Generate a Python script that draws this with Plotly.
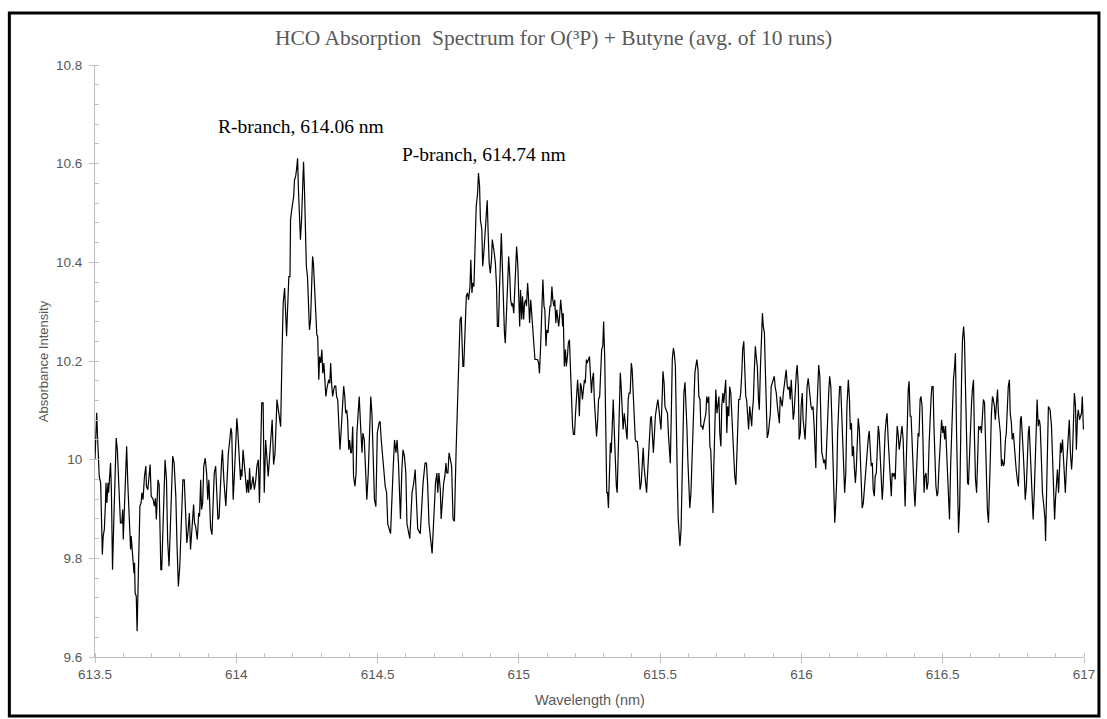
import plotly.graph_objects as go

# HCO absorption spectrum, O(3P) + butyne, averaged over 10 runs
wavelength_nm = [
    613.500, 613.506, 613.509, 613.515, 613.520, 613.526, 613.529, 613.533, 613.537, 613.539,
    613.542, 613.546, 613.548, 613.552, 613.555, 613.558, 613.562, 613.567, 613.572, 613.575,
    613.579, 613.584, 613.590, 613.595, 613.598, 613.600, 613.605, 613.612, 613.616, 613.621,
    613.626, 613.628, 613.632, 613.635, 613.638, 613.640, 613.642, 613.646, 613.649, 613.654,
    613.659, 613.663, 613.666, 613.670, 613.675, 613.680, 613.682, 613.687, 613.692, 613.695,
    613.699, 613.706, 613.710, 613.714, 613.717, 613.723, 613.727, 613.729, 613.733, 613.736,
    613.741, 613.748, 613.753, 613.757, 613.762, 613.767, 613.775, 613.780, 613.786, 613.790,
    613.795, 613.800, 613.806, 613.811, 613.816,
    613.821, 613.825, 613.829, 613.834, 613.838, 613.843, 613.849, 613.852, 613.856, 613.862,
    613.867, 613.870, 613.874, 613.877, 613.881, 613.885, 613.890, 613.895, 613.899, 613.903,
    613.907, 613.909, 613.914, 613.918, 613.922, 613.927, 613.930, 613.935, 613.939, 613.944,
    613.948, 613.951, 613.956, 613.963, 613.968, 613.972, 613.977, 613.981, 613.984, 613.989,
    613.993, 613.998, 614.002, 614.005, 614.010, 614.015, 614.017, 614.020, 614.024, 614.029,
    614.033, 614.037, 614.040, 614.044, 614.047, 614.051, 614.056, 614.059, 614.064, 614.069,
    614.073, 614.078, 614.082, 614.085, 614.090, 614.095, 614.099, 614.104, 614.107, 614.113,
    614.118, 614.123, 614.127, 614.132, 614.137, 614.144, 614.149,
    614.157, 614.162, 614.166, 614.171, 614.174, 614.178, 614.181, 614.186, 614.190, 614.192,
    614.196, 614.199, 614.203, 614.206, 614.210, 614.213, 614.217, 614.220, 614.224, 614.227,
    614.231, 614.234, 614.238, 614.241, 614.245, 614.248, 614.252, 614.256, 614.259, 614.263,
    614.266, 614.270, 614.273, 614.277, 614.281, 614.285, 614.288, 614.292, 614.295, 614.299,
    614.303, 614.306, 614.310, 614.313, 614.317, 614.320, 614.324, 614.327, 614.331, 614.334,
    614.338, 614.341, 614.345, 614.348, 614.352, 614.355, 614.359, 614.362, 614.367, 614.372,
    614.377, 614.380, 614.384, 614.387, 614.391, 614.394, 614.398, 614.401, 614.405, 614.408,
    614.412, 614.415, 614.420, 614.424, 614.427, 614.432, 614.435, 614.440, 614.445, 614.448,
    614.453, 614.458, 614.462, 614.467, 614.472, 614.476, 614.480, 614.485, 614.489, 614.494,
    614.499, 614.505, 614.509, 614.513, 614.518, 614.522, 614.527, 614.532, 614.536, 614.546,
    614.555, 614.560, 614.565, 614.569, 614.574, 614.579, 614.581, 614.586, 614.590, 614.595,
    614.600, 614.604, 614.614, 614.622, 614.628, 614.633, 614.637, 614.642, 614.651, 614.661,
    614.668, 614.673, 614.677, 614.682, 614.693, 614.701, 614.705, 614.710, 614.713, 614.717,
    614.722, 614.725, 614.729, 614.734, 614.738, 614.742, 614.745, 614.749, 614.753, 614.757,
    614.762, 614.767, 614.772, 614.778, 614.783, 614.788, 614.792, 614.796, 614.799, 614.802,
    614.805, 614.809, 614.814, 614.818,
    614.822, 614.827, 614.830, 614.834, 614.837, 614.841, 614.845, 614.849, 614.854, 614.857,
    614.861, 614.864, 614.869, 614.872, 614.876, 614.879, 614.884, 614.888, 614.891, 614.895,
    614.899, 614.903, 614.906, 614.910, 614.913, 614.917, 614.921, 614.924, 614.928, 614.931,
    614.935, 614.938, 614.942, 614.945, 614.949, 614.952, 614.956, 614.961, 614.964, 614.968,
    614.971, 614.975, 614.978, 614.982, 614.985, 614.989, 614.992, 614.996, 615.000, 615.003,
    615.006, 615.010, 615.013, 615.017, 615.020, 615.024, 615.027, 615.031, 615.034, 615.038,
    615.042, 615.045, 615.049, 615.052, 615.057, 615.062, 615.066, 615.070, 615.073, 615.077,
    615.080, 615.085, 615.089, 615.092, 615.096, 615.099, 615.103, 615.106, 615.110, 615.113,
    615.117, 615.120, 615.124, 615.127, 615.131, 615.134, 615.138, 615.141, 615.145, 615.148,
    615.152, 615.155,
    615.157, 615.161, 615.165, 615.168, 615.172, 615.175, 615.179, 615.183, 615.186, 615.190,
    615.193, 615.197, 615.200, 615.205, 615.208, 615.212, 615.214, 615.218, 615.221, 615.225,
    615.228, 615.232, 615.235, 615.239, 615.242, 615.246, 615.250, 615.253, 615.257, 615.260,
    615.264, 615.267, 615.271, 615.275, 615.279, 615.282, 615.286, 615.289, 615.293, 615.297,
    615.300, 615.304, 615.307, 615.311, 615.314, 615.317, 615.320, 615.324, 615.327, 615.331,
    615.334, 615.338, 615.341, 615.345, 615.348, 615.352, 615.355, 615.359, 615.362, 615.366,
    615.369, 615.373, 615.376, 615.380, 615.383, 615.387, 615.390, 615.394, 615.398, 615.401,
    615.405, 615.408, 615.412, 615.415, 615.419, 615.422, 615.426, 615.429, 615.433, 615.436,
    615.440, 615.443, 615.447, 615.452, 615.455, 615.459, 615.462, 615.466, 615.469, 615.473,
    615.476, 615.480, 615.483, 615.488,
    615.492, 615.496, 615.500, 615.503, 615.507, 615.510, 615.514, 615.517, 615.521, 615.526,
    615.529, 615.533, 615.536, 615.540, 615.543, 615.547, 615.550, 615.554, 615.557, 615.561,
    615.564, 615.568, 615.570, 615.574, 615.577, 615.581, 615.584, 615.588, 615.591, 615.595,
    615.598, 615.602, 615.605, 615.609, 615.613, 615.616, 615.620, 615.623, 615.627, 615.630,
    615.634, 615.637, 615.641, 615.644, 615.648, 615.651, 615.655, 615.658, 615.662, 615.665,
    615.669, 615.672, 615.676, 615.679, 615.683, 615.687, 615.690, 615.694, 615.697, 615.701,
    615.704, 615.708, 615.711, 615.715, 615.718, 615.722, 615.725, 615.729, 615.732, 615.736,
    615.739, 615.743, 615.746, 615.750, 615.754, 615.757, 615.761, 615.764, 615.768, 615.771,
    615.775, 615.778, 615.782, 615.785, 615.789, 615.792, 615.796, 615.799, 615.803, 615.806,
    615.810, 615.813, 615.817, 615.821, 615.824,
    615.826, 615.830, 615.833, 615.837, 615.840, 615.844, 615.848, 615.851, 615.855, 615.858,
    615.862, 615.865, 615.869, 615.872, 615.876, 615.879, 615.883, 615.886, 615.890, 615.893,
    615.897, 615.900, 615.904, 615.907, 615.911, 615.915, 615.918, 615.922, 615.925, 615.929,
    615.932, 615.936, 615.939, 615.943, 615.946, 615.950, 615.953, 615.957, 615.960, 615.964,
    615.967, 615.971, 615.974, 615.978, 615.982, 615.985, 615.989, 615.992, 615.996, 615.999,
    616.003, 616.006, 616.010, 616.013, 616.017, 616.020, 616.024, 616.027, 616.031, 616.034,
    616.038, 616.041, 616.045, 616.049, 616.051, 616.054, 616.058, 616.061, 616.065, 616.068,
    616.072, 616.075, 616.079, 616.083, 616.086, 616.090, 616.093, 616.097, 616.100, 616.104,
    616.107, 616.111, 616.114, 616.118, 616.121, 616.125, 616.128, 616.132, 616.135, 616.139,
    616.142, 616.146, 616.150, 616.153, 616.157,
    616.161, 616.166, 616.170, 616.173, 616.177, 616.180, 616.184, 616.187, 616.191, 616.194,
    616.198, 616.201, 616.205, 616.208, 616.212, 616.215, 616.219, 616.222, 616.226, 616.229,
    616.233, 616.237, 616.240, 616.244, 616.247, 616.251, 616.254, 616.258, 616.261, 616.265,
    616.268, 616.272, 616.275, 616.279, 616.282, 616.286, 616.289, 616.293, 616.296, 616.300,
    616.303, 616.307, 616.311, 616.314, 616.318, 616.321, 616.325, 616.328, 616.332, 616.335,
    616.339, 616.342, 616.346, 616.349, 616.353, 616.356, 616.360, 616.363, 616.367, 616.370,
    616.374, 616.378, 616.381, 616.385, 616.388, 616.392, 616.395, 616.399, 616.402, 616.406,
    616.409, 616.413, 616.416, 616.420, 616.423, 616.427, 616.430, 616.434, 616.437, 616.441,
    616.444, 616.448, 616.452, 616.455, 616.459, 616.462, 616.466, 616.469, 616.473, 616.476,
    616.480, 616.483, 616.487, 616.490, 616.494,
    616.496, 616.500, 616.503, 616.507, 616.510, 616.514, 616.517, 616.521, 616.524, 616.528,
    616.531, 616.535, 616.538, 616.542, 616.545, 616.549, 616.553, 616.556, 616.560, 616.563,
    616.567, 616.570, 616.574, 616.577, 616.581, 616.584, 616.588, 616.591, 616.595, 616.598,
    616.602, 616.605, 616.609, 616.612, 616.616, 616.620, 616.623, 616.627, 616.630, 616.634,
    616.637, 616.641, 616.644, 616.648, 616.651, 616.655, 616.658, 616.662, 616.665, 616.669,
    616.672, 616.676, 616.679, 616.683, 616.686, 616.690, 616.694, 616.697, 616.701, 616.704,
    616.708, 616.711, 616.715, 616.718, 616.722, 616.725, 616.729, 616.732, 616.736, 616.739,
    616.743, 616.746, 616.750, 616.753, 616.757, 616.760, 616.764, 616.768, 616.771, 616.775,
    616.778, 616.782, 616.785, 616.789, 616.792, 616.796, 616.799, 616.803, 616.806, 616.810,
    616.813, 616.817, 616.820, 616.824, 616.827, 616.831, 616.834, 616.838, 616.842, 616.845,
    616.850, 616.853, 616.858, 616.862, 616.864, 616.869, 616.874, 616.880, 616.885, 616.889,
    616.892, 616.896, 616.899, 616.903, 616.906, 616.910, 616.913, 616.917, 616.920, 616.924,
    616.927, 616.931, 616.934, 616.938, 616.941, 616.945, 616.948, 616.952, 616.956, 616.959,
    616.963, 616.966, 616.970, 616.973, 616.977, 616.980, 616.984, 616.987, 616.991, 616.994,
    616.998,
]

absorbance = [
    10.000, 10.095, 10.047, 9.966, 9.953, 9.808, 9.845, 9.858, 9.912, 9.953,
    9.912, 9.953, 9.933, 9.980, 9.993, 9.939, 9.777, 9.885, 10.020, 10.044,
    10.020, 9.953, 9.872, 9.872, 9.899, 9.838, 9.926, 10.027, 9.953, 9.865,
    9.818, 9.845, 9.818, 9.791, 9.770, 9.791, 9.730, 9.723, 9.652, 9.784,
    9.906, 9.912, 9.933, 9.919, 9.966, 9.987, 9.946, 9.939, 9.966, 9.990,
    9.926, 9.919, 9.906, 9.922, 9.879, 9.959, 9.949, 9.885, 9.777, 9.777,
    9.885, 10.000, 9.959, 9.838, 9.784, 9.865, 10.007, 9.993, 9.926, 9.831,
    9.743, 9.784, 9.899, 9.959, 9.959,
    9.885, 9.831, 9.852, 9.892, 9.818, 9.858, 9.909, 9.872, 9.865, 9.838,
    9.892, 9.885, 9.959, 9.899, 9.912, 9.987, 10.003, 9.973, 9.919, 9.959,
    9.885, 9.862, 9.848, 9.933, 9.973, 9.987, 9.939, 9.879, 9.882, 9.959,
    9.997, 10.020, 9.959, 9.906, 9.980, 10.013, 10.040, 10.064, 10.054, 9.919,
    9.966, 10.020, 10.084, 10.061, 10.013, 9.959, 9.980, 9.966, 10.020, 9.987,
    9.959, 9.933, 9.959, 9.933, 9.983, 9.939, 9.953, 9.966, 9.939, 9.959,
    9.987, 10.000, 9.912, 10.007, 10.115, 10.115, 9.933, 10.040, 10.020, 9.966,
    10.007, 10.047, 10.081, 9.990, 10.013, 10.122, 10.101,
    10.067, 10.216, 10.317, 10.348, 10.297, 10.250, 10.297, 10.371, 10.371, 10.486,
    10.506, 10.520, 10.533, 10.567, 10.574, 10.587, 10.611, 10.547, 10.486, 10.446,
    10.486, 10.554, 10.604, 10.554, 10.466, 10.392, 10.371, 10.311, 10.263, 10.284,
    10.338, 10.412, 10.398, 10.351, 10.311, 10.253, 10.250, 10.162, 10.209, 10.196,
    10.223, 10.175, 10.196, 10.149, 10.128, 10.142, 10.155, 10.162, 10.155, 10.196,
    10.149, 10.128, 10.142, 10.149, 10.149, 10.128, 10.121, 10.081, 10.020, 10.067,
    10.115, 10.149, 10.128, 10.094, 10.101, 10.081, 10.020, 10.040, 10.014, 10.014,
    10.067, 9.966, 9.946, 9.973, 10.054, 10.101, 10.128, 10.067, 10.014, 10.054,
    10.040, 9.973, 9.919, 9.973, 10.081, 10.128, 10.094, 10.014, 9.919, 9.905,
    10.054, 10.074, 10.078, 10.040, 9.993, 9.980, 9.946, 9.933, 9.870, 9.850,
    9.980, 10.040, 10.014, 10.040, 9.993, 9.933, 9.880, 9.980, 10.020, 10.007,
    9.973, 9.870, 9.840, 9.933, 9.953, 9.980, 9.933, 9.860, 9.850, 9.953,
    9.993, 9.993, 9.953, 9.870, 9.810, 9.919, 9.953, 9.973, 9.933, 9.973,
    9.939, 9.880, 9.926, 9.953, 9.966, 9.993, 9.973, 9.973, 10.014, 10.000,
    9.987, 9.880, 9.875, 10.020, 10.115, 10.203, 10.284, 10.290, 10.230, 10.189,
    10.189, 10.270, 10.331, 10.338,
    10.324, 10.351, 10.405, 10.338, 10.358, 10.351, 10.432, 10.513, 10.540, 10.581,
    10.554, 10.486, 10.466, 10.392, 10.419, 10.452, 10.493, 10.526, 10.466, 10.398,
    10.378, 10.405, 10.446, 10.432, 10.419, 10.398, 10.351, 10.270, 10.270, 10.338,
    10.412, 10.459, 10.385, 10.311, 10.257, 10.236, 10.297, 10.378, 10.412, 10.371,
    10.324, 10.311, 10.317, 10.297, 10.338, 10.392, 10.432, 10.398, 10.338, 10.270,
    10.344, 10.284, 10.331, 10.284, 10.317, 10.324, 10.311, 10.358, 10.331, 10.277,
    10.324, 10.297, 10.284, 10.257, 10.203, 10.203, 10.203, 10.196, 10.175, 10.230,
    10.297, 10.365, 10.311, 10.304, 10.230, 10.263, 10.257, 10.284, 10.311, 10.311,
    10.351, 10.324, 10.311, 10.324, 10.277, 10.304, 10.284, 10.270, 10.297, 10.324,
    10.297, 10.270,
    10.297, 10.189, 10.223, 10.189, 10.209, 10.236, 10.243, 10.176, 10.122, 10.068,
    10.051, 10.051, 10.088, 10.135, 10.162, 10.122, 10.088, 10.155, 10.148, 10.122,
    10.148, 10.162, 10.155, 10.203, 10.196, 10.203, 10.209, 10.176, 10.135, 10.162,
    10.176, 10.122, 10.081, 10.047, 10.081, 10.122, 10.128, 10.182, 10.223, 10.230,
    10.280, 10.203, 10.054, 9.933, 9.933, 9.902, 9.960, 10.034, 10.014, 10.068,
    10.122, 10.054, 9.987, 9.946, 9.933, 10.020, 10.122, 10.176, 10.148, 10.101,
    10.061, 10.094, 10.081, 10.054, 10.041, 10.122, 10.135, 10.135, 10.196, 10.182,
    10.122, 10.074, 10.041, 10.037, 10.037, 10.020, 9.973, 9.939, 9.953, 9.987,
    10.024, 9.987, 9.960, 9.933, 9.966, 10.014, 10.054, 10.084, 10.088, 10.054,
    10.014, 10.054, 10.088, 10.108,
    10.122, 10.101, 10.081, 10.061, 10.122, 10.179, 10.155, 10.108, 10.101, 10.094,
    10.054, 10.020, 9.993, 10.108, 10.203, 10.226, 10.216, 10.189, 10.054, 9.953,
    9.879, 9.845, 9.825, 9.858, 9.933, 10.041, 10.135, 10.157, 10.122, 10.061,
    10.000, 9.946, 9.902, 9.933, 10.000, 10.054, 10.122, 10.176, 10.192, 10.203,
    10.182, 10.128, 10.122, 10.068, 10.068, 10.061, 10.074, 10.081, 10.094, 10.128,
    10.115, 10.128, 10.027, 10.020, 9.926, 9.892, 9.987, 10.088, 10.142, 10.094,
    10.115, 10.128, 10.054, 10.027, 10.108, 10.135, 10.115, 10.148, 10.162, 10.054,
    10.108, 10.088, 10.148, 10.135, 10.081, 10.041, 10.000, 9.966, 9.949, 10.014,
    10.088, 10.122, 10.122, 10.135, 10.176, 10.223, 10.240, 10.189, 10.128, 10.122,
    10.094, 10.061, 10.108, 10.074, 10.068,
    10.094, 10.122, 10.176, 10.230, 10.209, 10.189, 10.122, 10.101, 10.189, 10.243,
    10.297, 10.270, 10.257, 10.189, 10.122, 10.044, 10.054, 10.068, 10.094, 10.148,
    10.155, 10.162, 10.169, 10.148, 10.135, 10.108, 10.088, 10.074, 10.128, 10.115,
    10.108, 10.135, 10.148, 10.162, 10.182, 10.148, 10.142, 10.148, 10.122, 10.162,
    10.108, 10.081, 10.094, 10.148, 10.176, 10.192, 10.148, 10.041, 10.054, 10.108,
    10.135, 10.081, 10.047, 10.041, 10.094, 10.148, 10.165, 10.148, 10.115, 10.108,
    10.101, 10.108, 10.068, 10.014, 9.983, 10.088, 10.135, 10.192, 10.169, 10.094,
    10.014, 10.007, 9.993, 10.000, 9.980, 10.041, 10.101, 10.142, 10.169, 10.148,
    10.094, 10.000, 9.919, 9.872, 9.905, 9.960, 10.054, 10.135, 10.148, 10.148,
    10.094, 10.014, 9.946, 9.933, 9.973,
    10.108, 10.162, 10.122, 10.061, 10.074, 10.007, 10.027, 9.987, 9.953, 9.980,
    10.054, 10.084, 10.061, 10.000, 9.933, 9.902, 9.912, 9.933, 9.966, 10.000,
    10.014, 10.047, 10.058, 10.014, 9.987, 9.993, 9.939, 9.926, 9.966, 9.973,
    10.020, 10.068, 10.054, 10.007, 9.946, 9.919, 9.946, 10.014, 10.054, 10.081,
    10.094, 10.041, 9.987, 9.946, 9.926, 9.973, 9.966, 9.973, 9.960, 10.014,
    10.068, 10.054, 10.020, 10.034, 10.061, 10.068, 10.041, 9.987, 9.905, 9.973,
    10.068, 10.142, 10.159, 10.088, 10.088, 10.020, 9.966, 9.933, 9.905, 9.960,
    9.987, 10.054, 10.047, 10.122, 10.128, 10.108, 10.041, 9.933, 9.966, 9.973,
    9.939, 9.953, 10.034, 10.094, 10.128, 10.148, 10.148, 10.068, 9.993, 9.946,
    9.926, 9.933, 9.987, 10.027, 10.061,
    10.081, 10.054, 10.068, 10.041, 10.068, 10.014, 9.966, 9.919, 9.879, 9.987,
    10.054, 10.148, 10.162, 10.189, 10.216, 10.054, 9.919, 9.852, 9.905, 10.054,
    10.176, 10.243, 10.270, 10.243, 10.135, 10.000, 9.953, 9.949, 10.014, 10.081,
    10.115, 10.142, 10.162, 10.054, 9.960, 9.933, 10.014, 10.068, 10.061, 10.068,
    10.054, 10.108, 10.122, 10.115, 10.041, 9.960, 9.899, 9.872, 9.919, 10.014,
    10.088, 10.128, 10.122, 10.108, 10.081, 10.122, 10.142, 10.094, 10.061, 10.054,
    9.987, 10.000, 9.987, 9.993, 10.041, 10.054, 10.108, 10.148, 10.162, 10.094,
    10.074, 10.041, 10.054, 10.027, 10.000, 9.980, 9.960, 9.946, 10.000, 10.081,
    10.088, 10.054, 10.014, 9.966, 9.919, 9.946, 10.014, 10.054, 10.068, 10.014,
    9.953, 9.892, 9.879, 9.933, 10.020, 10.061, 10.122, 10.068, 10.081, 10.068,
    9.987, 9.933, 9.905, 9.879, 9.835, 9.987, 10.108, 10.101, 10.068, 10.000,
    9.953, 9.879, 9.919, 9.953, 9.980, 9.933, 10.000, 10.034, 10.014, 10.041,
    10.007, 9.960, 9.933, 9.987, 10.020, 10.054, 10.081, 10.014, 9.980, 10.007,
    10.088, 10.135, 10.108, 10.020, 10.088, 10.101, 10.081, 10.088, 10.094, 10.128,
    10.061,
]

x_ticks = [613.5, 614, 614.5, 615, 615.5, 616, 616.5, 617]
x_tick_text = ["613.5", "614", "614.5", "615", "615.5", "616", "616.5", "617"]
y_ticks = [9.6, 9.8, 10.0, 10.2, 10.4, 10.6, 10.8]
y_tick_text = ["9.6", "9.8", "10", "10.2", "10.4", "10.6", "10.8"]

peak_labels = ["R-branch, 614.06 nm", "P-branch, 614.74 nm"]
peak_label_x = [614.230, 614.878]
peak_label_y = [10.676, 10.618]

GRAY_TEXT = "#595959"
AXIS_GRAY = "#bfbfbf"
SERIF = "Liberation Serif, Times New Roman, serif"
SANS = "Liberation Sans, Arial, sans-serif"

fig = go.Figure()
fig.add_trace(go.Scatter(
    x=wavelength_nm, y=absorbance, mode="lines",
    line=dict(color="#000000", width=1.2),
    hoverinfo="x+y", showlegend=False,
))

for text, xv, yv in zip(peak_labels, peak_label_x, peak_label_y):
    fig.add_annotation(x=xv, y=yv, xref="x", yref="y", text=text, showarrow=False,
                       font=dict(family=SERIF, size=19.5, color="#000000"))

# axis titles
fig.add_annotation(text="Wavelength (nm)", xref="paper", yref="paper", x=0.5, y=-0.073,
                   showarrow=False, yanchor="middle",
                   font=dict(family=SANS, size=14.5, color=GRAY_TEXT))
fig.add_annotation(text="Absorbance Intensity", xref="paper", yref="paper", x=-0.0524, y=0.5,
                   showarrow=False, textangle=-90, xanchor="center",
                   font=dict(family=SANS, size=13, color=GRAY_TEXT))

# outer frame around the whole chart
fig.add_shape(type="rect", xref="paper", yref="paper",
              x0=-0.0866, x1=1.0151, y0=-0.0997, y1=1.0878,
              line=dict(color="#000000", width=3), fillcolor="rgba(0,0,0,0)")

fig.update_layout(
    width=1107, height=719,
    margin=dict(l=95, r=19, t=65, b=62),
    paper_bgcolor="#ffffff", plot_bgcolor="#ffffff",
    title=dict(text="HCO Absorption  Spectrum for O(³P) + Butyne (avg. of 10 runs)",
               x=0.5, xref="container", xanchor="center",
               y=1 - 37 / 719, yref="container", yanchor="middle",
               font=dict(family=SERIF, size=21.5, color=GRAY_TEXT)),
    xaxis=dict(range=[613.5, 617], tickvals=x_ticks, ticktext=x_tick_text,
               showgrid=False, zeroline=False, showline=True, linecolor=AXIS_GRAY, linewidth=1,
               ticks="outside", ticklen=5, tickcolor=AXIS_GRAY,
               minor=dict(dtick=0.1, ticks="inside", ticklen=4, tickcolor=AXIS_GRAY),
               tickfont=dict(family=SANS, size=13.5, color=GRAY_TEXT)),
    yaxis=dict(range=[9.6, 10.8], tickvals=y_ticks, ticktext=y_tick_text,
               showgrid=False, zeroline=False, showline=True, linecolor=AXIS_GRAY, linewidth=1,
               ticks="outside", ticklen=5, tickcolor=AXIS_GRAY,
               minor=dict(tick0=9.6, dtick=0.04, ticks="inside", ticklen=4, tickcolor=AXIS_GRAY),
               ticklabelstandoff=4,
               tickfont=dict(family=SANS, size=13.5, color=GRAY_TEXT)),
)

fig.write_html("out.html")
